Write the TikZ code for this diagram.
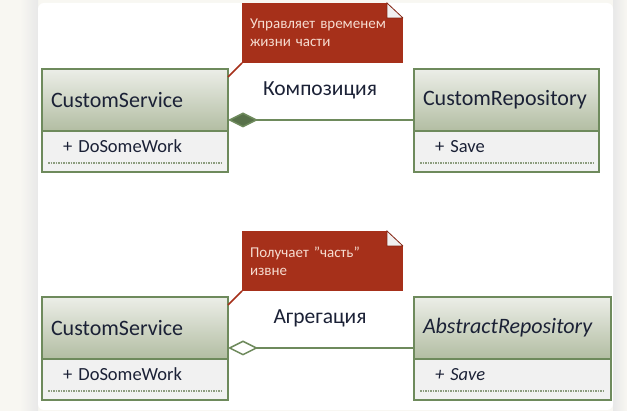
\documentclass[tikz,border=0pt]{standalone}
\usepackage{fontspec}
\setmainfont{Carlito}
\usetikzlibrary{positioning,arrows.meta}
\definecolor{umlborder}{HTML}{6E8A5C}
\definecolor{headtop}{HTML}{ECEEE8}
\definecolor{headbot}{HTML}{B2BDA2}
\definecolor{bodyfill}{HTML}{F1F1F1}
\definecolor{umltext}{HTML}{1B2136}
\definecolor{notered}{HTML}{A6301A}
\definecolor{notetext}{HTML}{F6DCD0}
\definecolor{dotgreen}{HTML}{8C9C7E}
\definecolor{diamondgreen}{HTML}{58714A}
\definecolor{pagebg}{HTML}{F8F7F2}
\tikzset{
  font=\fontsize{22}{25}\selectfont,
  classhead/.style={rectangle,draw=umlborder,line width=1.5pt,outer sep=0pt,
    top color=headtop,bottom color=headbot,text=umltext,
    text width=#1,inner xsep=9pt,minimum height=62pt,align=left},
  classbody/.style={rectangle,draw=umlborder,line width=1.5pt,outer sep=0pt,
    fill=bodyfill,text=umltext,font=\fontsize{18.5}{20}\selectfont,
    text width=#1,inner xsep=9pt,minimum height=41pt,align=left,
    text height=13pt,text depth=10pt},
  notebox/.style={rectangle,fill=notered,text=notetext,outer sep=0pt,
    font=\fontsize{15}{18}\selectfont,align=left,inner xsep=8pt,inner ysep=6pt,
    minimum width=161pt,minimum height=60pt,text width=145pt,
    path picture={
      \fill[white] ([xshift=-16pt]path picture bounding box.north east)
        -- (path picture bounding box.north east)
        -- ([yshift=-15pt]path picture bounding box.north east) -- cycle;
      \filldraw[fill=bodyfill,draw=notered!80!black,line width=0.8pt]
        ([xshift=-16pt]path picture bounding box.north east)
        -- ([xshift=-16pt,yshift=-15pt]path picture bounding box.north east)
        -- ([yshift=-15pt]path picture bounding box.north east) -- cycle;
    }},
  notelink/.style={draw=notered,line width=1.5pt},
  dotrule/.style={draw=dotgreen,line width=1.2pt,dash pattern=on 1.5pt off 1pt},
  composition/.style={draw=umlborder,line width=1.5pt,
    {Diamond[length=30pt,width=15pt,fill=diamondgreen]}-},
  aggregation/.style={draw=umlborder,line width=1.5pt,
    {Diamond[open,length=30pt,width=15pt,fill=white]}-},
  relname/.style={text=umltext,font=\fontsize{21.5}{24}\selectfont}
}
\begin{document}
\begin{tikzpicture}[x=1pt,y=-1pt]
\useasboundingbox (0,0) rectangle (627,411);
\fill[pagebg] (0,0) rectangle (627,411);
\shade[left color=pagebg,right color=black!9] (20,0) rectangle (38,411);
\shade[left color=black!9,right color=pagebg] (613,0) rectangle (627,411);
\fill[white,rounded corners=6pt] (38,3) rectangle (613,410);

% composition
\node[classhead=168pt,anchor=north west] (svc1) at (42,69) {CustomService};
\node[classbody=168pt,below=0pt of svc1] (svc1ops) {\hspace{12pt}+ DoSomeWork};
\node[classhead=167pt,anchor=north west] (repo1) at (414,69) {CustomRepository};
\node[classbody=167pt,below=0pt of repo1] (repo1ops) {\hspace{12pt}+ Save};
\draw[dotrule] ([xshift=6pt,yshift=9pt]svc1ops.south west) -- ([xshift=-6pt,yshift=9pt]svc1ops.south east);
\draw[dotrule] ([xshift=6pt,yshift=9pt]repo1ops.south west) -- ([xshift=-6pt,yshift=9pt]repo1ops.south east);
\draw[composition] ([yshift=11pt]svc1.south east) -- ([yshift=11pt]repo1.south west);
\node[relname] (comp) at (320,90) {Композиция};
\node[notebox,anchor=north west] (note1) at (242,3) {Управляет временем\\жизни части};
\draw[notelink] (note1.south west) -- ([yshift=-8pt]svc1.north east);

% aggregation
\node[classhead=168pt,anchor=north west] (svc2) at (42,297) {CustomService};
\node[classbody=168pt,below=0pt of svc2] (svc2ops) {\hspace{12pt}+ DoSomeWork};
\node[classhead=179pt,anchor=north west] (repo2) at (414,297) {\itshape AbstractRepository};
\node[classbody=179pt,below=0pt of repo2] (repo2ops) {\hspace{12pt}\itshape + Save};
\draw[dotrule] ([xshift=6pt,yshift=9pt]svc2ops.south west) -- ([xshift=-6pt,yshift=9pt]svc2ops.south east);
\draw[dotrule] ([xshift=6pt,yshift=9pt]repo2ops.south west) -- ([xshift=-6pt,yshift=9pt]repo2ops.south east);
\draw[aggregation] ([yshift=11pt]svc2.south east) -- ([yshift=11pt]repo2.south west);
\node[relname] (aggr) at (320,318) {Агрегация};
\node[notebox,anchor=north west] (note2) at (242,231) {Получает \symbol{34}часть\symbol{34}\\извне};
\draw[notelink] (note2.south west) -- ([yshift=-8pt]svc2.north east);
\end{tikzpicture}
\end{document}
